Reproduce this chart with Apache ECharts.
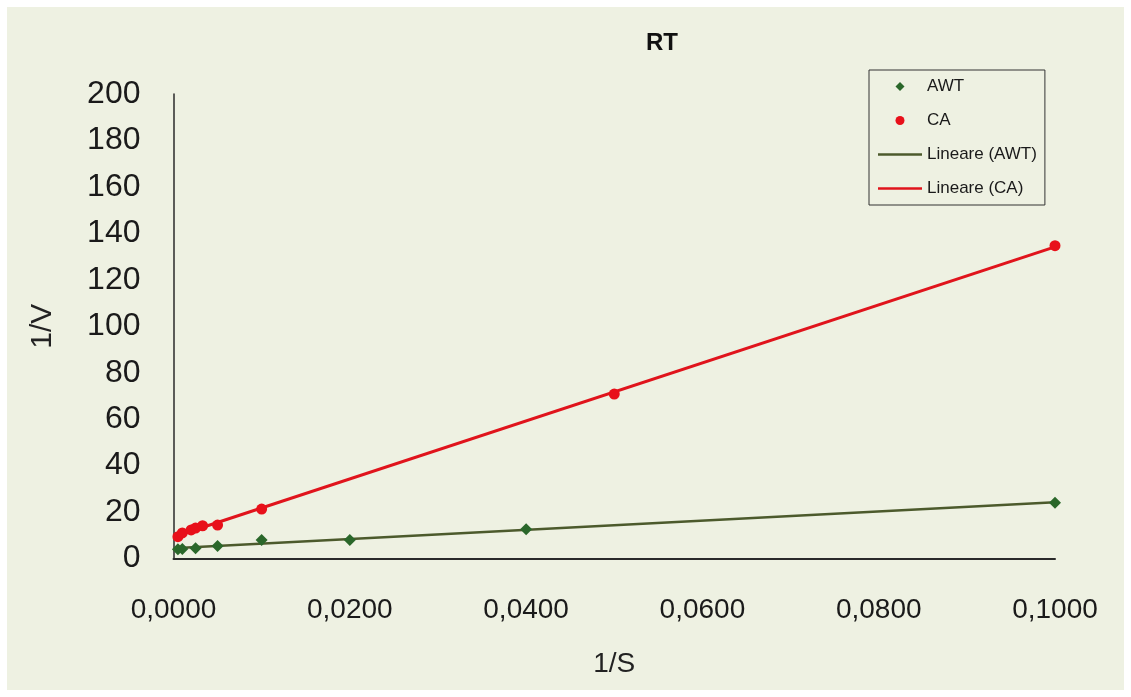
<!DOCTYPE html>
<html>
<head>
<meta charset="utf-8">
<script src="https://cdn.jsdelivr.net/npm/echarts@6/dist/echarts.min.js"></script>
<style>
html,body{margin:0;padding:0;background:#ffffff;}
#bg{position:absolute;left:7px;top:7px;width:1117px;height:683px;background:#eef1e2;}
#main{position:absolute;left:0;top:0;width:1131px;height:697px;}
</style>
</head>
<body>
<div id="bg"></div>
<div id="main"></div>
<script>
// Data
const awtX = [0.0005, 0.001, 0.0025, 0.005, 0.01, 0.02, 0.04, 0.1];
const awtY = [4.0, 4.1, 4.4, 5.4, 8.0, 8.0, 12.6, 24.0];
const caX = [0.0005, 0.001, 0.002, 0.0025, 0.0033, 0.005, 0.01, 0.05, 0.1];
const caY = [9.4, 11.0, 12.3, 13.1, 14.1, 14.4, 21.3, 70.8, 134.7];
const yTicks = [0, 20, 40, 60, 80, 100, 120, 140, 160, 180, 200];
const xTicks = [0, 0.02, 0.04, 0.06, 0.08, 0.1];

function pairs(xs, ys) { return xs.map((x, i) => [x, ys[i]]); }
// Least-squares linear trendline ("Lineare") over the data range
function fit(xs, ys) {
  const n = xs.length;
  let sx = 0, sy = 0, sxx = 0, sxy = 0;
  for (let i = 0; i < n; i++) { sx += xs[i]; sy += ys[i]; sxx += xs[i]*xs[i]; sxy += xs[i]*ys[i]; }
  const b = (n*sxy - sx*sy) / (n*sxx - sx*sx);
  const a = (sy - b*sx) / n;
  const x0 = Math.min(...xs), x1 = Math.max(...xs);
  return [[x0, a + b*x0], [x1, a + b*x1]];
}

const lineIcon = 'path://M0,0 L44,0 L44,2.5 L0,2.5 Z';
const chart = echarts.init(document.getElementById('main'));
const font = 'Arial, "Liberation Sans", sans-serif';
chart.setOption({
  animation: false,
  backgroundColor: 'transparent',
  title: {
    text: 'RT', left: 641, top: 26,
    textStyle: { fontFamily: font, fontSize: 24, fontWeight: 'bold', color: '#111' }
  },
  legend: {
    orient: 'vertical', left: 869, top: 70,
    padding: [8, 8, 8, 9],
    borderColor: '#333', borderWidth: 1,
    itemWidth: 44, itemHeight: 9, itemGap: 17,
    symbolKeepAspect: true,
    textStyle: { fontFamily: font, fontSize: 17, lineHeight: 16, color: '#1a1a1a' },
    data: [
      { name: 'AWT', icon: 'path://M5,0 L10,5 L5,10 L0,5 Z' },
      { name: 'CA', icon: 'circle' },
      { name: 'Lineare (AWT)', icon: lineIcon },
      { name: 'Lineare (CA)', icon: lineIcon }
    ]
  },
  grid: { left: 173.5, right: 76, top: 94, bottom: 138.5 },
  xAxis: {
    type: 'value', min: 0, max: 0.1, interval: 0.02,
    name: '1/S', nameLocation: 'middle', nameGap: 92,
    nameTextStyle: { fontFamily: font, fontSize: 28, color: '#222' },
    axisLine: { show: true, onZero: false, lineStyle: { color: '#2a2a2a', width: 2 } },
    axisTick: { show: false },
    splitLine: { show: false },
    axisLabel: {
      margin: 38, fontFamily: font, fontSize: 28, color: '#1a1a1a',
      formatter: v => v.toFixed(4).replace('.', ',')
    }
  },
  yAxis: {
    type: 'value', min: 0, max: 200, interval: 20,
    name: '1/V', nameLocation: 'middle', nameGap: 116, nameRotate: 90,
    nameTextStyle: { fontFamily: font, fontSize: 30, color: '#222' },
    axisLine: { show: true, lineStyle: { color: '#2a2a2a', width: 1.5 } },
    axisTick: { show: false },
    splitLine: { show: false },
    axisLabel: { margin: 33, fontFamily: font, fontSize: 32, color: '#1a1a1a' }
  },
  series: [
    {
      name: 'Lineare (AWT)', type: 'line', data: fit(awtX, awtY), symbol: 'none',
      lineStyle: { color: '#4c5a2c', width: 2.5 }, itemStyle: { color: '#4c5a2c' }, z: 2
    },
    {
      name: 'Lineare (CA)', type: 'line', data: fit(caX, caY), symbol: 'none',
      lineStyle: { color: '#e0141c', width: 3 }, itemStyle: { color: '#e0141c' }, z: 2
    },
    {
      name: 'AWT', type: 'scatter', data: pairs(awtX, awtY), symbol: 'diamond', symbolSize: 12,
      itemStyle: { color: '#2a672a', opacity: 1 }, z: 3
    },
    {
      name: 'CA', type: 'scatter', data: pairs(caX, caY), symbol: 'circle', symbolSize: 11,
      itemStyle: { color: '#e8101a', opacity: 1 }, z: 3
    }
  ]
});
</script>
</body>
</html>
